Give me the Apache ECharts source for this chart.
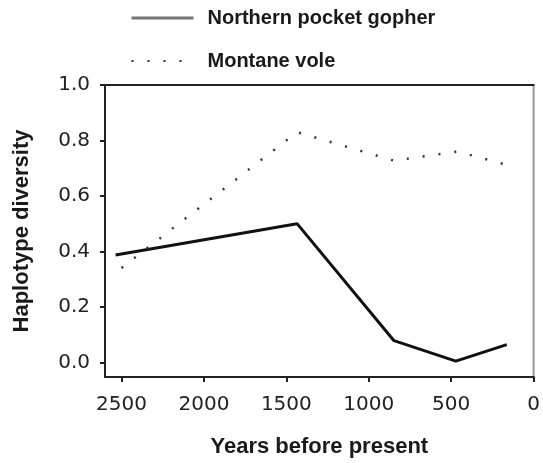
<!DOCTYPE html>
<html>
<head>
<meta charset="utf-8">
<script src="https://cdn.jsdelivr.net/npm/echarts@6/dist/echarts.min.js"></script>
<style>
  html, body { margin: 0; padding: 0; background: #fff; }
  #chart { width: 543px; height: 463px; }
</style>
</head>
<body>
<div id="chart"></div>
<script>
// 数据
const gopherYears = [2536, 1435, 847, 472, 163];
const gopherValues = [0.387, 0.50, 0.078, 0.004, 0.064];
const voleYears = [2500, 1435, 847, 460, 170];
const voleValues = [0.34, 0.83, 0.727, 0.76, 0.713];
const xTicks = [0, 500, 1000, 1500, 2000, 2500];
const yTicks = [0, 0.2, 0.4, 0.6, 0.8, 1.0];

function pairs(xs, ys) {
    return xs.map((x, i) => [x, ys[i]]);
}

function initChart() {
    const chart = echarts.init(document.getElementById('chart'));
    const option = {
        animation: false,
        legend: {
            orient: 'vertical',
            left: 130,
            top: 8,
            padding: 0,
            itemWidth: 62,
            itemHeight: 20,
            itemGap: 23,
            itemStyle: { opacity: 0 },
            textStyle: {
                fontFamily: 'Liberation Sans',
                fontWeight: 'bold',
                fontSize: 20,
                color: '#1a1a1a',
                lineHeight: 20,
                padding: [0, 0, 0, 9]
            },
            data: [
                { name: 'Northern pocket gopher', lineStyle: { color: '#777', width: 3 } },
                { name: 'Montane vole' }
            ]
        },
        grid: {
            left: 105,
            right: 8,
            top: 85,
            bottom: 81,
            show: true,
            borderColor: '#999',
            borderWidth: 2
        },
        xAxis: [
            {
                type: 'value',
                inverse: true,
                min: 0,
                max: 2600,
                name: 'Years before present',
                nameLocation: 'middle',
                nameGap: 59,
                nameTextStyle: {
                    fontFamily: 'Liberation Sans',
                    fontWeight: 'bold',
                    fontSize: 22,
                    color: '#1a1a1a'
                },
                splitLine: { show: false },
                axisLine: { onZero: false, lineStyle: { color: '#222', width: 2 } },
                axisTick: { length: 5, customValues: xTicks, lineStyle: { color: '#222', width: 2 } },
                axisLabel: {
                    customValues: xTicks,
                    margin: 18,
                    fontFamily: 'DejaVu Sans',
                    fontSize: 20,
                    color: '#222',
                    formatter: v => String(v)
                }
            },
            {
                // 顶部边框
                type: 'value',
                position: 'top',
                inverse: true,
                min: 0,
                max: 2600,
                splitLine: { show: false },
                axisLine: { onZero: false, lineStyle: { color: '#222', width: 2 } },
                axisTick: { show: false },
                axisLabel: { show: false }
            }
        ],
        yAxis: {
            type: 'value',
            min: -0.053,
            max: 1.0,
            name: 'Haplotype diversity',
            nameLocation: 'middle',
            nameGap: 72,
            nameTextStyle: {
                fontFamily: 'Liberation Sans',
                fontWeight: 'bold',
                fontSize: 22,
                color: '#1a1a1a'
            },
            splitLine: { show: false },
            axisLine: { show: true, onZero: false, lineStyle: { color: '#222', width: 2 } },
            axisTick: { show: true, length: 5, customValues: yTicks, lineStyle: { color: '#222', width: 2 } },
            axisLabel: {
                customValues: yTicks,
                margin: 15,
                fontFamily: 'DejaVu Sans',
                fontSize: 20,
                color: '#222',
                formatter: v => v.toFixed(1)
            }
        },
        series: [
            {
                name: 'Northern pocket gopher',
                type: 'line',
                symbol: 'none',
                color: '#111',
                lineStyle: { color: '#111', width: 3 },
                data: pairs(gopherYears, gopherValues)
            },
            {
                name: 'Montane vole',
                type: 'line',
                symbol: 'none',
                color: '#333',
                lineStyle: { color: '#333', width: 2.5, type: [2, 14] },
                data: pairs(voleYears, voleValues)
            }
        ]
    };
    chart.setOption(option);
}

document.addEventListener('DOMContentLoaded', initChart);
</script>
</body>
</html>
